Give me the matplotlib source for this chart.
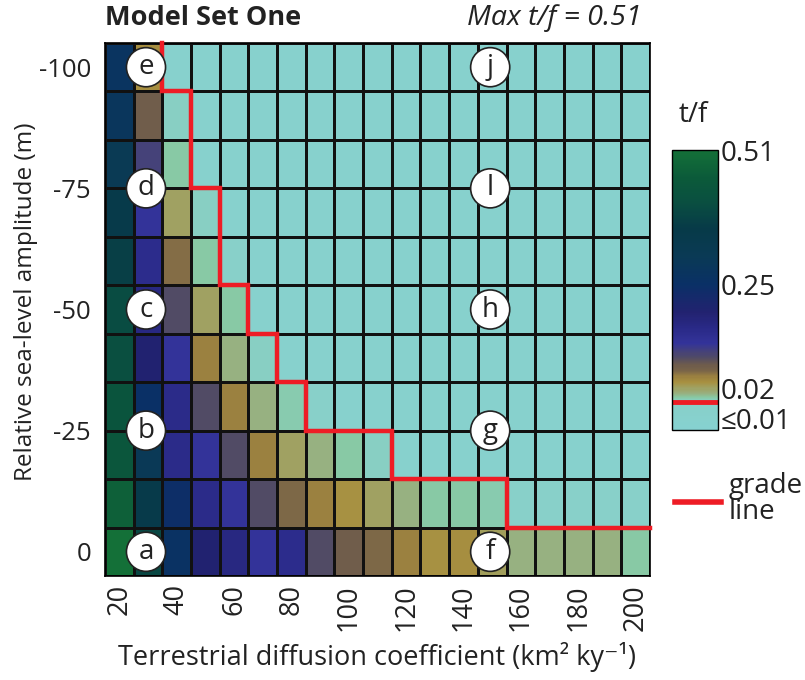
"""Model Set One: t/f heat map over diffusion coefficient and sea-level amplitude."""

import matplotlib
matplotlib.use("Agg")
import matplotlib.pyplot as plt
import numpy as np
from matplotlib.colors import FuncNorm, LinearSegmentedColormap
from matplotlib.lines import Line2D

plt.rcParams["font.family"] = ["Open Sans", "DejaVu Sans"]

# Diffusion coefficients (km2/ky) and sea-level amplitudes (m)
diffusion = [20, 30, 40, 50, 60, 70, 80, 90, 100, 110, 120, 130, 140, 150, 160, 170, 180, 190, 200]
amplitude = [0, -10, -20, -30, -40, -50, -60, -70, -80, -90, -100]

# t/f per sea-level amplitude, one value per diffusion coefficient
tf_0 = [0.51, 0.39, 0.26, 0.19, 0.16, 0.12, 0.145, 0.088, 0.07, 0.057, 0.045, 0.032, 0.036, 0.022,
        0.016, 0.016, 0.016, 0.016, 0.013]
tf_10 = [0.47, 0.35, 0.24, 0.15, 0.12, 0.088, 0.057, 0.045, 0.032, 0.02, 0.016, 0.013, 0.013, 0.012,
         0.009, 0.009, 0.009, 0.009, 0.009]
tf_20 = [0.44, 0.30, 0.15, 0.12, 0.088, 0.045, 0.02, 0.016, 0.013, 0.011, 0.005, 0.005, 0.005, 0.005,
         0.005, 0.005, 0.005, 0.005, 0.005]
tf_30 = [0.43, 0.25, 0.15, 0.088, 0.045, 0.016, 0.012, 0.009, 0.005, 0.005, 0.005, 0.005, 0.005, 0.005,
         0.005, 0.005, 0.005, 0.005, 0.005]
tf_40 = [0.41, 0.19, 0.12, 0.045, 0.016, 0.011, 0.005, 0.005, 0.005, 0.005, 0.005, 0.005, 0.005, 0.005,
         0.005, 0.005, 0.005, 0.005, 0.005]
tf_50 = [0.40, 0.16, 0.088, 0.02, 0.013, 0.005, 0.005, 0.005, 0.005, 0.005, 0.005, 0.005, 0.005, 0.005,
         0.005, 0.005, 0.005, 0.005, 0.005]
tf_60 = [0.37, 0.145, 0.055, 0.013, 0.009, 0.005, 0.005, 0.005, 0.005, 0.005, 0.005, 0.005, 0.005, 0.005,
         0.005, 0.005, 0.005, 0.005, 0.005]
tf_70 = [0.35, 0.12, 0.02, 0.011, 0.005, 0.005, 0.005, 0.005, 0.005, 0.005, 0.005, 0.005, 0.005, 0.005,
         0.005, 0.005, 0.005, 0.005, 0.005]
tf_80 = [0.31, 0.10, 0.013, 0.005, 0.005, 0.005, 0.005, 0.005, 0.005, 0.005, 0.005, 0.005, 0.005, 0.005,
         0.005, 0.005, 0.005, 0.005, 0.005]
tf_90 = [0.28, 0.07, 0.011, 0.005, 0.005, 0.005, 0.005, 0.005, 0.005, 0.005, 0.005, 0.005, 0.005, 0.005,
         0.005, 0.005, 0.005, 0.005, 0.005]
tf_100 = [0.27, 0.035, 0.005, 0.005, 0.005, 0.005, 0.005, 0.005, 0.005, 0.005, 0.005, 0.005, 0.005, 0.005,
          0.005, 0.005, 0.005, 0.005, 0.005]

grade_threshold = 0.01

# Circled scenario labels
label_letters = ["a", "b", "c", "d", "e", "f", "g", "h", "l", "j"]
label_diffusion = [30, 30, 30, 30, 30, 150, 150, 150, 150, 150]
label_amplitude = [0, -25, -50, -75, -100, 0, -25, -50, -75, -100]

cbar_ticks = [0.004, 0.02, 0.25, 0.51]
cbar_ticklabels = ["≤0.01", "0.02", "0.25", "0.51"]

# non-linear colour scale (value -> position on colour bar)
scale_vals = [0.0, 0.01, 0.02, 0.25, 0.51]
scale_pos = [0.0, 0.10, 0.15, 0.52, 1.0]

cmap = LinearSegmentedColormap.from_list("tf", [
    (0.00, "#86d1d1"), (0.10, "#88d0c8"), (0.115, "#88c8a2"), (0.13, "#98b080"),
    (0.15, "#a0a060"), (0.17, "#a89040"), (0.19, "#9a8040"), (0.21, "#7a6548"),
    (0.23, "#6e5c4c"), (0.26, "#504a66"), (0.31, "#333399"), (0.36, "#2a2a88"),
    (0.42, "#222270"), (0.52, "#0a3066"), (0.62, "#0a3a55"), (0.72, "#073a48"),
    (0.82, "#0a5040"), (0.90, "#0b5a3a"), (1.00, "#147038"),
])

TXT = "#222222"


def _fwd(v):
    return np.interp(v, scale_vals, scale_pos)


def _inv(p):
    return np.interp(p, scale_pos, scale_vals)


norm = FuncNorm((_fwd, _inv), vmin=0.0, vmax=0.51)

tf = np.array([tf_0, tf_10, tf_20, tf_30, tf_40, tf_50, tf_60, tf_70, tf_80, tf_90, tf_100])
xs = np.array(diffusion, dtype=float)
ys = np.array(amplitude, dtype=float)
dx = xs[1] - xs[0]
dy = ys[0] - ys[1]
x_edges = np.append(xs - dx / 2, xs[-1] + dx / 2)
y_edges = np.append(ys + dy / 2, ys[-1] - dy / 2)

fig = plt.figure(figsize=(8.05, 6.8), dpi=100)
ax = fig.add_axes([0.1304, 0.1529, 0.677, 0.7839])
mesh = ax.pcolormesh(x_edges, y_edges, tf, cmap=cmap, norm=norm,
                     edgecolors="#111111", linewidth=0.9)

# grade line: boundary between t/f > threshold and t/f <= threshold
gx, gy = [], []
for i in range(len(ys) - 1, -1, -1):
    row = tf[i]
    below = np.where(row <= grade_threshold)[0]
    if len(below):
        b = xs[below[0]] - dx / 2
        gx += [b, b]
        gy += [ys[i] - dy / 2, ys[i] + dy / 2]
    else:
        gx.append(x_edges[-1])
        gy.append(ys[i] - dy / 2)
ax.plot(gx, gy, color="#ee1c25", lw=3.2, solid_joinstyle="miter", clip_on=False, zorder=4)

for letter, lx, ly in zip(label_letters, label_diffusion, label_amplitude):
    ax.text(lx - 0.7, ly, letter, ha="center", va="center", fontsize=20, color=TXT,
            bbox=dict(boxstyle="circle,pad=0.2", fc="white", ec=TXT, lw=1.2), zorder=5)

ax.set_xlim(x_edges[0], x_edges[-1])
ax.set_ylim(y_edges[0], y_edges[-1])
ax.set_xticks(xs[::2])
ax.set_xticklabels([str(v) for v in diffusion[::2]], rotation=90, fontsize=19.5)
ax.set_yticks([0, -25, -50, -75, -100])
ax.set_yticklabels(["0", "-25", "-50", "-75", "-100"], fontsize=18.5)
ax.tick_params(axis="x", length=0, pad=6, colors=TXT)
ax.tick_params(axis="y", length=0, pad=10, colors=TXT)
ax.set_xlabel("Terrestrial diffusion coefficient (km² ky⁻¹)", fontsize=19.5, color=TXT)
ax.xaxis.set_label_coords(0.5, -0.124)
ax.set_ylabel("Relative sea-level amplitude (m)", fontsize=17.5, color=TXT)
ax.yaxis.set_label_coords(-0.123, 0.515)
for s in ax.spines.values():
    s.set_linewidth(1.2)

fig.text(0.1304, 0.973, "Model Set One", fontsize=19.5, fontweight="bold", color=TXT,
         ha="left", va="center")
fig.text(0.797, 0.973, "Max t/f = 0.51", fontsize=20.5, style="italic", color=TXT,
         ha="right", va="center")

# colour bar
cax = fig.add_axes([0.835, 0.3676, 0.057, 0.4118])
cbar = fig.colorbar(mesh, cax=cax)
cbar.set_ticks(cbar_ticks)
cbar.set_ticklabels(cbar_ticklabels)
cbar.ax.tick_params(length=0, labelsize=20, pad=2, colors=TXT)
cbar.ax.axhline(grade_threshold, color="#ee1c25", lw=3.5)
cbar.outline.set_linewidth(1.0)
fig.text(0.861, 0.831, "t/f", fontsize=20, color=TXT, ha="center", va="center")

# legend for grade line
fig.add_artist(Line2D([0.838, 0.896], [0.262, 0.262], color="#ee1c25", lw=4))
fig.text(0.905, 0.266, "grade\nline", fontsize=20, color=TXT, ha="left", va="center",
         linespacing=0.9)

fig.savefig("out.png", dpi=100)
